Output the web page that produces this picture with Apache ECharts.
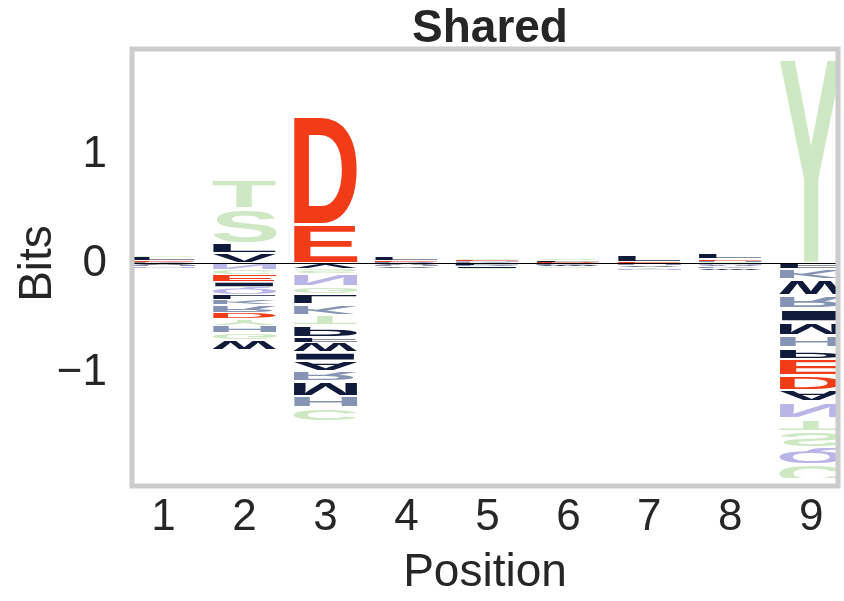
<!DOCTYPE html>
<html><head><meta charset="utf-8">
<script src="https://cdn.jsdelivr.net/npm/echarts@6/dist/echarts.min.js"></script>
<style>html,body{margin:0;padding:0;background:#fff}#c{width:844px;height:601px}</style>
</head><body><div id="c"></div>
<script>
// ---------- data ----------
const positions = [1, 2, 3, 4, 5, 6, 7, 8, 9];
const xTickValues = [1, 2, 3, 4, 5, 6, 7, 8, 9];
const yTickValues = [-1, 0, 1];
// letters listed outward from the zero line; positive bits stack up, negative bits stack down (flipped)
const letters1 = ['K', 'E', 'L', 'G', 'V', 'H', 'N'];
const bits1    = [0.012, 0.012, 0.03, 0.01, -0.012, -0.02, -0.012];
const letters2 = ['V', 'L', 'S', 'T', 'N', 'C', 'E', 'I', 'Q', 'L', 'K', 'R', 'D', 'Y', 'H', 'G', 'W'];
const bits2    = [0.09, 0.09, 0.32, 0.27, -0.054, -0.045, -0.072, -0.045, -0.072, -0.045, -0.045, -0.072, -0.064, -0.054, -0.072, -0.063, -0.09];
const letters3 = ['E', 'D', 'V', 'S', 'N', 'G', 'L', 'K', 'T', 'P', 'F', 'W', 'I', 'A', 'R', 'M', 'H', 'C'];
const bits3    = [0.36, 1.0, -0.041, -0.049, -0.126, -0.063, -0.099, -0.09, -0.1, -0.108, -0.045, -0.099, -0.072, -0.09, -0.099, -0.135, -0.117, -0.126];
const letters4 = ['R', 'E', 'L', 'A', 'H', 'V'];
const bits4    = [0.012, 0.015, 0.035, -0.015, -0.02, -0.012];
const letters5 = ['K', 'N', 'E', 'G', 'L', 'R', 'I', 'S'];
const bits5    = [0.012, 0.01, 0.012, 0.012, -0.015, -0.015, -0.012, -0.01];
const letters6 = ['D', 'L', 'S', 'K', 'W', 'C'];
const bits6    = [0.01, 0.02, 0.012, -0.015, -0.02, -0.012];
const letters7 = ['E', 'L', 'H', 'V', 'T', 'N'];
const bits7    = [0.015, 0.055, -0.02, -0.02, -0.012, -0.01];
const letters8 = ['S', 'H', 'E', 'L', 'N', 'A', 'K', 'W'];
const bits8    = [0.01, 0.012, 0.02, 0.04, -0.012, -0.02, -0.015, -0.015];
const letters9 = ['Y', 'F', 'K', 'W', 'R', 'I', 'M', 'H', 'P', 'E', 'D', 'A', 'N', 'T', 'S', 'Q', 'C'];
const bits9    = [1.88, -0.045, -0.1, -0.15, -0.126, -0.117, -0.126, -0.117, -0.09, -0.153, -0.135, -0.117, -0.153, -0.108, -0.144, -0.162, -0.17];

// colour groups
const greenLetters = ['G', 'S', 'T', 'Y', 'C'];
const redLetters = ['D', 'E'];
const lavenderLetters = ['N', 'Q'];
const slateLetters = ['K', 'R', 'H'];
const navyLetters = ['A', 'V', 'L', 'I', 'P', 'W', 'F', 'M'];

// ---------- styles ----------
const GREEN = '#cfe8c4', RED = '#f23c17', LAV = '#b9b5e6', SLATE = '#8593b5', NAVY = '#101a3a';
const TEXT = '#262626';
const FONT_FAMILY = '"Liberation Sans", Arial, sans-serif';
const GLYPH_FONT = 'bold 100px "Liberation Sans", Arial, sans-serif';
const GLYPH_WIDTH = 0.79;
const VSEP = 0.03;

function colorOf(l) {
  if (greenLetters.includes(l)) return GREEN;
  if (redLetters.includes(l)) return RED;
  if (lavenderLetters.includes(l)) return LAV;
  if (slateLetters.includes(l)) return SLATE;
  return NAVY;
}
const letterOrder = [].concat(greenLetters, redLetters, lavenderLetters, slateLetters, navyLetters);

// glyph ink metrics (font size 100, baseline middle, align center)
const cv = document.createElement('canvas');
const ctx = cv.getContext('2d');
ctx.font = GLYPH_FONT; ctx.textBaseline = 'middle'; ctx.textAlign = 'center';
const metrics = {};
letterOrder.forEach(l => {
  const m = ctx.measureText(l);
  metrics[l] = { L: m.actualBoundingBoxLeft, R: m.actualBoundingBoxRight, A: m.actualBoundingBoxAscent, D: m.actualBoundingBoxDescent };
});

const stacks = [[letters1, bits1], [letters2, bits2], [letters3, bits3], [letters4, bits4], [letters5, bits5],
                [letters6, bits6], [letters7, bits7], [letters8, bits8], [letters9, bits9]];
const glyphData = [];
positions.forEach((p, i) => {
  const ls = stacks[i][0], bs = stacks[i][1];
  let up = 0, down = 0;
  ls.forEach((l, j) => {
    const b = bs[j];
    const k = letterOrder.indexOf(l);
    if (b >= 0) { glyphData.push([p, up, up + b, k, 0]); up += b; }
    else { glyphData.push([p, down + b, down, k, 1]); down += b; }
  });
});

function renderItem(params, api) {
  const x = api.value(0), lo = api.value(1), hi = api.value(2);
  const letter = letterOrder[api.value(3)];
  const flip = api.value(4) === 1;
  const gap = Math.min(VSEP, (hi - lo) * 0.25) / 2;
  const p0 = api.coord([x - GLYPH_WIDTH / 2, hi - gap]);
  const p1 = api.coord([x + GLYPH_WIDTH / 2, lo + gap]);
  const m = metrics[letter];
  const sx = (p1[0] - p0[0]) / (m.L + m.R);
  const sy = (p1[1] - p0[1]) / (m.A + m.D);
  const ex = p0[0] + m.L * sx;
  const ey = flip ? (p1[1] - m.A * sy) : (p0[1] + m.A * sy);
  return {
    type: 'text',
    x: ex, y: ey, scaleX: sx, scaleY: flip ? -sy : sy,
    style: {
      text: letter, x: 0, y: 0, font: GLYPH_FONT, fill: colorOf(letter),
      align: 'center', verticalAlign: 'middle', textAlign: 'center', textVerticalAlign: 'middle'
    }
  };
}

const GRID = { left: 132, top: 49, width: 706, height: 437 };
const chart = echarts.init(document.getElementById('c'));
chart.setOption({
  animation: false,
  backgroundColor: '#ffffff',
  title: {
    text: 'Shared', left: GRID.left + GRID.width / 2, textAlign: 'center', top: 1,
    textStyle: { fontFamily: FONT_FAMILY, fontWeight: 'bold', fontSize: 46, color: TEXT }
  },
  grid: { left: GRID.left, top: GRID.top, width: GRID.width, height: GRID.height, show: false },
  xAxis: {
    type: 'value', min: 0.61, max: 9.33,
    axisLine: { show: false }, axisTick: { show: false }, splitLine: { show: false },
    axisLabel: { customValues: xTickValues, fontSize: 44, color: TEXT, fontFamily: FONT_FAMILY, margin: 18 },
    name: 'Position', nameLocation: 'middle', nameGap: 72, nameMoveOverlap: false,
    nameTextStyle: { fontSize: 46, color: TEXT, fontFamily: FONT_FAMILY }
  },
  yAxis: {
    type: 'value', min: -1.97, max: 1.97,
    axisLine: { show: false }, axisTick: { show: false }, splitLine: { show: false },
    axisLabel: {
      customValues: yTickValues, fontSize: 44, color: TEXT, fontFamily: FONT_FAMILY, margin: 25,
      padding: [16, 0, 0, 0],
      formatter: v => (v < 0 ? '\u2212' + Math.abs(v) : String(v))
    },
    name: 'Bits', nameLocation: 'middle', nameGap: 71, nameMoveOverlap: false,
    nameTextStyle: { fontSize: 46, color: TEXT, fontFamily: FONT_FAMILY }
  },
  graphic: [{
    type: 'rect', z: 100, silent: true,
    shape: { x: GRID.left, y: GRID.top, width: GRID.width, height: GRID.height },
    style: { fill: 'none', stroke: '#cccccc', lineWidth: 5 }
  }],
  series: [{
    type: 'custom', clip: true,
    renderItem: renderItem,
    encode: { x: 0, y: [1, 2] },
    data: glyphData,
    markLine: {
      silent: true, symbol: 'none', label: { show: false },
      lineStyle: { color: '#000000', width: 1.2, type: 'solid' },
      data: [{ yAxis: 0 }]
    }
  }]
});
</script></body></html>
